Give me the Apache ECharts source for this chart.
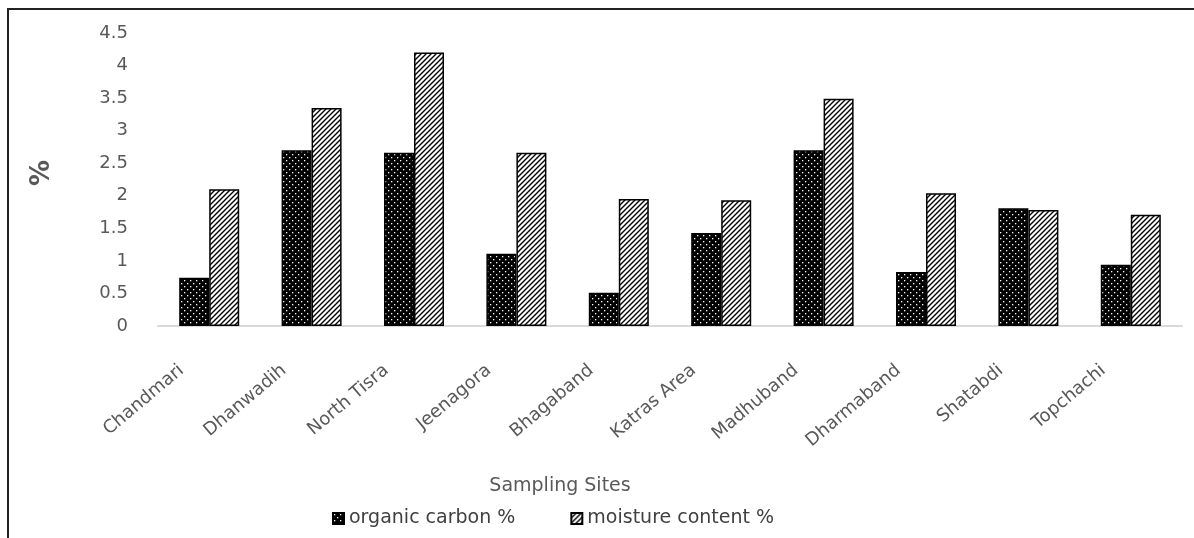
<!DOCTYPE html>
<html>
<head>
<meta charset="utf-8">
<script src="https://cdn.jsdelivr.net/npm/echarts@6/dist/echarts.min.js"></script>
<style>
  html, body { margin: 0; padding: 0; background: #fff; }
  #chart { width: 1194px; height: 538px; }
</style>
</head>
<body>
<div id="chart"></div>
<script>
  var sites = ["Chandmari", "Dhanwadih", "North Tisra", "Jeenagora", "Bhagaband",
               "Katras Area", "Madhuband", "Dharmaband", "Shatabdi", "Topchachi"];
  var organicCarbon = [0.74, 2.70, 2.66, 1.11, 0.51, 1.43, 2.70, 0.83, 1.81, 0.94];
  var moistureContent = [2.10, 3.35, 4.20, 2.66, 1.95, 1.93, 3.49, 2.04, 1.78, 1.71];
  var yTicks = [0, 0.5, 1, 1.5, 2, 2.5, 3, 3.5, 4, 4.5];

  // black with white dots
  function dotPattern() {
    var c = document.createElement("canvas");
    c.width = 6; c.height = 6;
    var ctx = c.getContext("2d");
    ctx.fillStyle = "#000";
    ctx.fillRect(0, 0, 6, 6);
    ctx.fillStyle = "#fff";
    ctx.fillRect(1, 1, 1.3, 1.3);
    ctx.fillRect(4, 4, 1.3, 1.3);
    return c;
  }

  // white with black diagonal hatching
  function hatchPattern() {
    var c = document.createElement("canvas");
    c.width = 5; c.height = 5;
    var ctx = c.getContext("2d");
    ctx.fillStyle = "#fff";
    ctx.fillRect(0, 0, 5, 5);
    ctx.strokeStyle = "#000";
    ctx.lineWidth = 1.4;
    ctx.beginPath();
    ctx.moveTo(-1, 6); ctx.lineTo(6, -1);
    ctx.moveTo(-1, 1); ctx.lineTo(1, -1);
    ctx.moveTo(4, 6); ctx.lineTo(6, 4);
    ctx.stroke();
    return c;
  }

  var chart = echarts.init(document.getElementById("chart"));
  var txt = "#595959";
  var font = "'DejaVu Sans', sans-serif";

  chart.setOption({
    animation: false,
    backgroundColor: "#fff",
    graphic: [{
      type: "rect",
      shape: { x: 8, y: 9, width: 1200, height: 540 },
      style: { fill: "none", stroke: "#222", lineWidth: 2 },
      silent: true
    }, {
      // x axis title (sits left of the plot centre, as in the source)
      type: "text",
      x: 560,
      y: 486,
      style: {
        text: "Sampling Sites", fill: txt, fontSize: 19, fontFamily: font,
        align: "center", verticalAlign: "middle"
      },
      silent: true
    }, {
      type: "text",
      x: 29,
      y: 186,
      rotation: Math.PI / 2,
      style: { text: "%", fill: txt, fontSize: 26, fontWeight: "bold", fontFamily: font },
      silent: true
    }],
    grid: { left: 158, right: 12, top: 33, bottom: 212 },
    legend: {
      top: 504,
      left: 327,
      icon: "rect",
      itemWidth: 11,
      itemHeight: 11,
      itemGap: 55,
      textStyle: { color: "#404040", fontSize: 19, fontFamily: font },
      data: ["organic carbon %", "moisture content %"]
    },
    xAxis: {
      type: "category",
      data: sites,
      axisLine: { lineStyle: { color: "#d9d9d9", width: 2 } },
      axisTick: { show: false },
      axisLabel: {
        rotate: 40,
        margin: 19,
        padding: [0, 36, 0, 0],
        color: txt,
        fontSize: 18,
        fontFamily: font,
        interval: 0
      }
    },
    yAxis: {
      type: "value",
      min: yTicks[0],
      max: yTicks[yTicks.length - 1],
      interval: 0.5,
      splitLine: { show: false },
      axisLine: { show: false },
      axisTick: { show: false },
      axisLabel: { color: txt, fontSize: 18, fontFamily: font, margin: 30 }
    },
    series: [{
      name: "organic carbon %",
      type: "bar",
      data: organicCarbon,
      barWidth: 30,
      barGap: "0%",
      itemStyle: {
        color: { image: dotPattern(), repeat: "repeat" },
        borderColor: "#000",
        borderWidth: 1.5
      }
    }, {
      name: "moisture content %",
      type: "bar",
      data: moistureContent,
      barWidth: 30,
      itemStyle: {
        color: { image: hatchPattern(), repeat: "repeat" },
        borderColor: "#000",
        borderWidth: 1.5
      }
    }]
  });
</script>
</body>
</html>
